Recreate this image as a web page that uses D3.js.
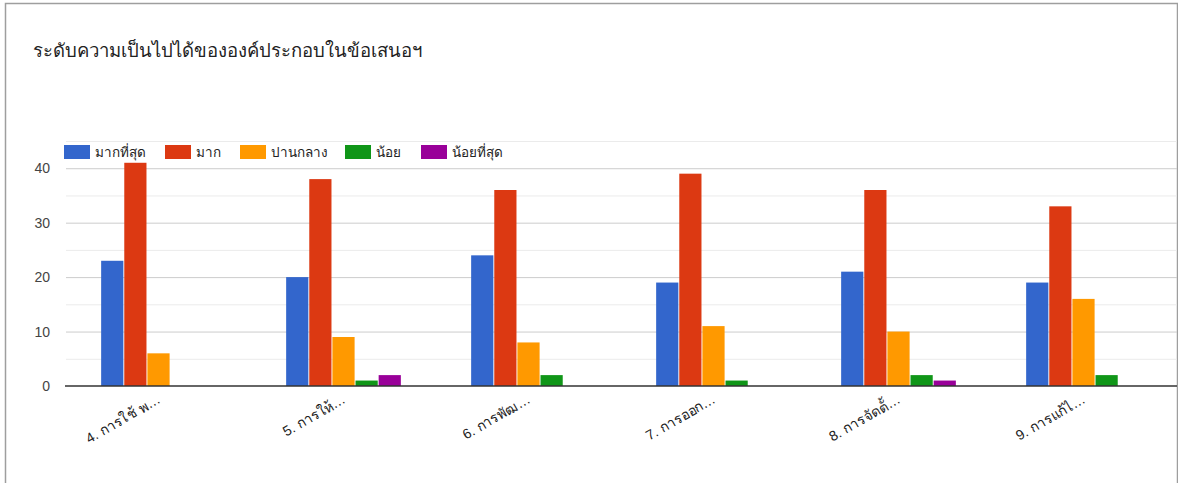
<!DOCTYPE html>
<html>
<head>
<meta charset="utf-8">
<script src="https://d3js.org/d3.v7.min.js"></script>
<style>
  body { margin: 0; background: #fff; }
  text { font-family: "Liberation Sans", Arial, sans-serif; }
  .grid.major line { stroke: #cccccc; }
  .grid.minor line { stroke: #ebebeb; }
  .grid .domain { stroke: none; }
</style>
</head>
<body>
<svg id="chart" width="1178" height="483"></svg>
<script>
const categories = ["4. การใช้ พ…", "5. การให้…", "6. การพัฒ…", "7. การออก…", "8. การจัดตั้…", "9. การแก้ไ…"];
const seriesNames = ["มากที่สุด", "มาก", "ปานกลาง", "น้อย", "น้อยที่สุด"];
const mostValues   = [23, 20, 24, 19, 21, 19];
const muchValues   = [41, 38, 36, 39, 36, 33];
const mediumValues = [6, 9, 8, 11, 10, 16];
const littleValues = [0, 1, 2, 1, 2, 2];
const leastValues  = [0, 2, 0, 0, 1, 0];
const yTicks = [0, 10, 20, 30, 40];
const colors = ["#3366cc", "#dc3912", "#ff9900", "#109618", "#990099"];

const series = [mostValues, muchValues, mediumValues, littleValues, leastValues];

const svg = d3.select("#chart");

// frame
svg.append("path")
  .attr("d", "M5.5,483 V3.5 H1177.5 V483")
  .attr("fill", "none")
  .attr("stroke", "#9e9e9e")
  .attr("stroke-width", 1.5);

svg.append("text")
  .attr("x", 33).attr("y", 57)
  .attr("font-size", 18.5).attr("fill", "#222")
  .text("ระดับความเป็นไปได้ขององค์ประกอบในข้อเสนอฯ");

const plotL = 66, plotR = 1176, plotT = 141, plotB = 386;

const x = d3.scaleBand().domain(categories).range([plotL, plotR])
  .paddingInner(0.38).paddingOuter(0.19);
const xs = d3.scaleBand().domain(d3.range(seriesNames.length))
  .range([0, x.bandwidth()]).paddingInner(0.04);
const y = d3.scaleLinear().domain([0, 45]).range([plotB, plotT]);

// minor gridlines
svg.append("g").attr("class", "grid minor")
  .attr("transform", `translate(${plotL},0)`)
  .call(d3.axisLeft(y).tickValues([5, 15, 25, 35, 45]).tickSize(-(plotR + 1 - plotL)).tickFormat(""));
// major gridlines
svg.append("g").attr("class", "grid major")
  .attr("transform", `translate(${plotL},0)`)
  .call(d3.axisLeft(y).tickValues(yTicks.slice(1)).tickSize(-(plotR + 1 - plotL)).tickFormat(""));

// y labels
const yAxis = svg.append("g")
  .attr("transform", `translate(${plotL},0)`)
  .call(d3.axisLeft(y).tickValues(yTicks).tickSize(0).tickPadding(16));
yAxis.select(".domain").remove();
yAxis.selectAll("text").attr("font-size", 14).attr("fill", "#444")
  .style("font-family", "'Liberation Sans', Arial, sans-serif");

// bars
const groups = svg.append("g").selectAll("g")
  .data(categories).join("g")
  .attr("transform", d => `translate(${x(d)},0)`);
groups.selectAll("rect")
  .data((d, i) => series.map((s, k) => ({k: k, v: s[i]})))
  .join("rect")
  .attr("x", d => xs(d.k))
  .attr("width", xs.bandwidth())
  .attr("y", d => y(d.v))
  .attr("height", d => y(0) - y(d.v))
  .attr("fill", d => colors[d.k]);

// baseline
svg.append("line")
  .attr("x1", plotL - 1).attr("x2", plotR + 1)
  .attr("y1", y(0)).attr("y2", y(0))
  .attr("stroke", "#333").attr("stroke-width", 1.5);

// x labels
svg.append("g").selectAll("text")
  .data(categories).join("text")
  .attr("transform", d => `translate(${x(d) + x.bandwidth() / 2 + 3},${plotB + 16}) rotate(-30)`)
  .attr("text-anchor", "end")
  .attr("font-size", 14).attr("fill", "#222")
  .text(d => d);

// legend
const legendX = [64, 165, 240, 345, 421];
const legend = svg.append("g").selectAll("g")
  .data(seriesNames).join("g")
  .attr("transform", (d, i) => `translate(${legendX[i]},145)`);
legend.append("rect")
  .attr("width", 26).attr("height", 14)
  .attr("fill", (d, i) => colors[i]);
legend.append("text")
  .attr("x", 31).attr("y", 12)
  .attr("font-size", 13.5).attr("fill", "#222")
  .text(d => d);
</script>
</body>
</html>
